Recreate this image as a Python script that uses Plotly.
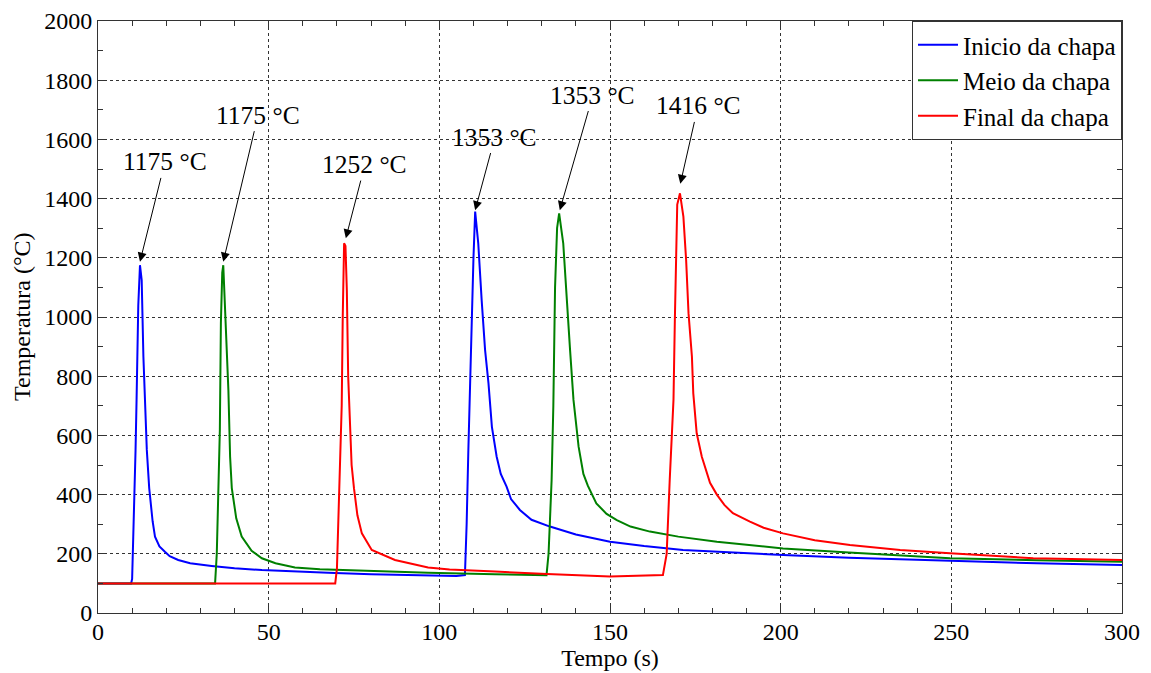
import plotly.graph_objects as go

# ---- data ----
blue_t = [0, 9.7, 10.0, 10.5, 11.0, 11.3, 11.8, 12.3, 12.8, 13.3, 13.8, 14.3, 15.0, 16.0, 16.7, 18, 19.6, 21,
          23.5, 27, 33.3, 40, 48, 57, 67.4, 80, 96.7, 105, 107.5, 108.0, 108.5, 109.0, 109.5, 110.0, 110.5,
          111.4, 112.4, 113.4, 114.4, 115.4, 116.8, 118, 119.7, 121, 123.6, 127, 132.4, 140, 150, 160, 171.4,
          185, 200.7, 220, 249.6, 275, 300]
blue_T = [100, 100, 115, 300, 550, 720, 1040, 1175, 1125, 866, 720, 551, 422, 310, 258, 225, 207, 192,
          179, 168, 159, 151, 145, 140, 136, 131, 126, 125, 128, 300, 550, 800, 1000, 1200, 1356,
          1249, 1057, 889, 776, 629, 528, 470, 427, 385, 348, 315, 292, 265, 241, 226, 213,
          204, 196, 187, 176, 168, 162]

green_t = [0, 34.3, 34.8, 35.3, 35.7, 36.0, 36.4, 36.7, 37.2, 37.7, 38.2, 38.7, 39.2, 40.5, 42.1, 45, 48, 52,
           57.7, 65, 77.3, 96.7, 116.3, 125, 131.4, 132.0, 132.9, 133.4, 133.9, 134.5, 135.1, 136.3, 137.3,
           138.3, 139.3, 140.8, 142.2, 143.5, 146, 149, 152, 156, 161.7, 170, 181.3, 190, 200.7, 220, 249.6,
           275, 300]
green_T = [100, 100, 200, 400, 620, 980, 1150, 1175, 1050, 900, 753, 528, 422, 320, 258, 210, 185, 168,
           154, 148, 143, 136, 131, 128, 128, 200, 450, 700, 1100, 1300, 1350, 1249, 1057,
           889, 720, 562, 470, 430, 370, 335, 314, 292, 275, 258, 241, 230, 218, 204, 185,
           178, 173]

red_t = [0, 69.5, 70.0, 70.7, 71.4, 71.7, 72.1, 72.5, 72.9, 73.3, 74.0, 74.3, 75.0, 76, 77.3, 80.2, 87, 96.7,
         103, 112.8, 116.3, 131.5, 150, 165.5, 166.6, 167.5, 168.6, 169.0, 169.3, 169.7, 170.5, 171.5, 172.3,
         173, 174, 174.4, 175.4, 176.9, 179.3, 181.3, 183.5, 186, 191, 195, 200.7, 210, 220.3, 235, 249.6,
         274, 300]
red_T = [100, 100, 150, 400, 700, 1000, 1249, 1240, 1091, 798, 596, 500, 421, 330, 269, 213, 179, 154,
         147, 143, 140, 132, 123, 128, 200, 450, 720, 990, 1150, 1380, 1418, 1339, 1193,
         1013, 866, 742, 607, 528, 440, 400, 365, 337, 309, 288, 269, 246, 230, 213, 202,
         185, 179]

series_names = ["Inicio da chapa", "Meio da chapa", "Final da chapa"]
series_colors = ["#0000ff", "#008000", "#ff0000"]

# peak labels: text, arrow head (t, T), text centre (t, T)
peak_text = ["1175 °C", "1175 °C", "1252 °C", "1353 °C", "1353 °C", "1416 °C"]
head_t = [12.3, 36.7, 72.6, 110.5, 135.3, 170.6]
head_T = [1187, 1187, 1266, 1361, 1361, 1450]
label_t = [19.6, 46.9, 78.2, 116.3, 145.0, 175.8]
label_T = [1524, 1682, 1515, 1608, 1750, 1713]

x_ticks = [0, 50, 100, 150, 200, 250, 300]
y_ticks = [0, 200, 400, 600, 800, 1000, 1200, 1400, 1600, 1800, 2000]

FONT = "Liberation Serif, Times New Roman, serif"

fig = go.Figure()
for tt, TT, nm, col in zip([blue_t, green_t, red_t], [blue_T, green_T, red_T], series_names, series_colors):
    fig.add_trace(go.Scatter(x=tt, y=TT, mode="lines", name=nm,
                             line=dict(color=col, width=2)))

for txt, hx, hy, lx, ly in zip(peak_text, head_t, head_T, label_t, label_T):
    fig.add_annotation(x=hx, y=hy, ax=lx, ay=ly, xref="x", yref="y", axref="x", ayref="y",
                       text=txt, showarrow=True, arrowhead=2, arrowsize=1.8, arrowwidth=1,
                       arrowcolor="black", font=dict(family=FONT, size=25.5, color="black"))

# y-axis title placed as rotated text
fig.add_annotation(x=0, y=0.5, xref="paper", yref="paper", xshift=-76, showarrow=False,
                   text="Temperatura (°C)", textangle=-90, xanchor="center", yanchor="middle",
                   font=dict(family=FONT, size=24, color="black"))

axis_common = dict(showline=True, linecolor="#333", linewidth=1, mirror="ticks",
                   ticks="inside", ticklen=7, tickcolor="#333",
                   showgrid=True, gridcolor="#333", griddash="3px,3px", gridwidth=1,
                   zeroline=False, tickfont=dict(family=FONT, size=24, color="black"))

fig.update_xaxes(range=[0, 300], tickvals=x_ticks, **axis_common, ticklabelstandoff=-3,
                 minor=dict(dtick=10, ticks="inside", ticklen=5, tickcolor="#333", showgrid=False),
                 title=dict(text="Tempo (s)", font=dict(family=FONT, size=24, color="black"), standoff=0))
fig.update_yaxes(range=[0, 2000], tickvals=y_ticks, **axis_common,
                 minor=dict(dtick=100, ticks="inside", ticklen=5, tickcolor="#333", showgrid=False))

fig.update_layout(
    width=1143, height=665,
    margin=dict(l=90, r=29, t=13, b=60, autoexpand=False),
    plot_bgcolor="white", paper_bgcolor="white",
    showlegend=True,
    legend=dict(x=1, y=1, xanchor="right", yanchor="top", bgcolor="white",
                bordercolor="#333", borderwidth=1,
                font=dict(family=FONT, size=25, color="black"),
                tracegroupgap=0, itemwidth=40),
)

fig.write_html("out.html")
